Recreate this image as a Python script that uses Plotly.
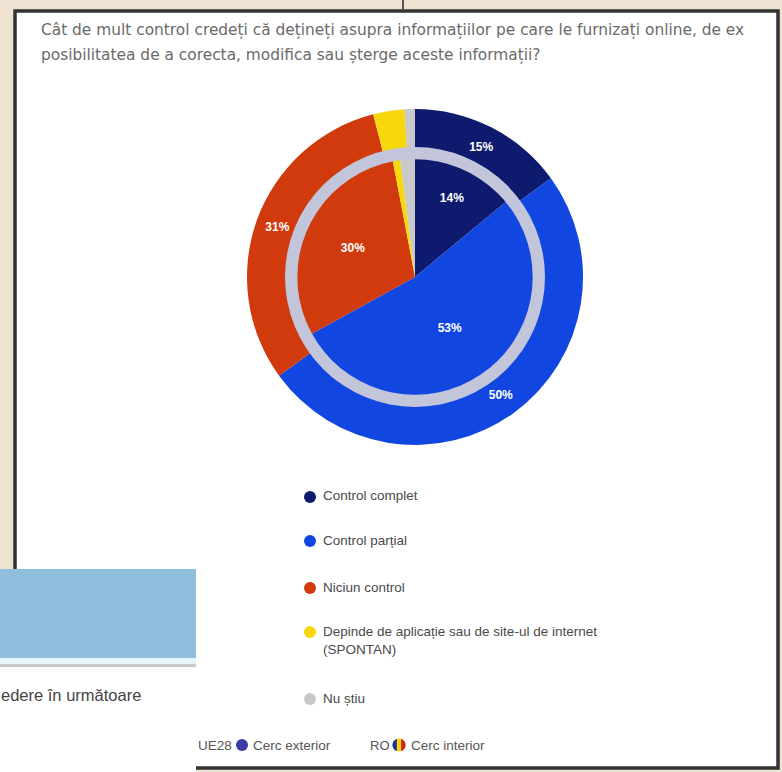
import math
import plotly.graph_objects as go

W, H = 782, 772

# ---------------- data ----------------
categories = [
    "Control complet",
    "Control parțial",
    "Niciun control",
    "Depinde de aplicație sau de site-ul de internet (SPONTAN)",
    "Nu știu",
]
legend_labels = [
    "Control complet",
    "Control parțial",
    "Niciun control",
    "Depinde de aplicație sau de site-ul de internet<br>(SPONTAN)",
    "Nu știu",
]
ue28_values = [15, 50, 31, 3, 1]   # outer ring (UE28)
ro_values = [14, 53, 30, 1, 2]     # inner circle (RO)
colors = ["#0e1a6e", "#1146e0", "#d03a0c", "#f6d80c", "#c9c9c9"]

title_lines = [
    "Cât de mult control credeți că dețineți asupra informațiilor pe care le furnizați online, de ex",
    "posibilitatea de a corecta, modifica sau șterge aceste informații?",
]


def px(x):
    return x / W


def py(y):
    return 1 - y / H


def dom(cx, cy, r):
    return dict(x=[px(cx - r), px(cx + r)], y=[py(cy + r), py(cy - r)])


def pct_text(vals):
    return [f"{v}%" if v >= 5 else "" for v in vals]


CX, CY, R = 415, 277, 168
R_IN = 124
R_RING = 130

fig = go.Figure()

# outer ring: UE28
fig.add_trace(go.Pie(
    labels=categories, values=ue28_values, text=pct_text(ue28_values),
    texttemplate="<b>%{text}</b>", textposition="inside",
    insidetextorientation="horizontal",
    textfont=dict(color="white", size=12, family="Liberation Sans"),
    marker=dict(colors=colors, line=dict(width=0)),
    sort=False, direction="clockwise", rotation=0, hole=0.74,
    domain=dom(CX, CY, R), showlegend=False, hoverinfo="label+percent",
    name="UE28",
))

# inner pie: RO
fig.add_trace(go.Pie(
    labels=categories, values=ro_values, text=pct_text(ro_values),
    texttemplate="<b>%{text}</b>", textposition="inside",
    insidetextorientation="horizontal",
    textfont=dict(color="white", size=12, family="Liberation Sans"),
    marker=dict(colors=colors, line=dict(width=0)),
    sort=False, direction="clockwise", rotation=0,
    domain=dom(CX, CY, R_IN), showlegend=False, hoverinfo="label+percent",
    name="RO",
))

# separating light ring
fig.add_trace(go.Pie(
    labels=["ring"], values=[1], textinfo="none",
    marker=dict(colors=["#c3c6da"], line=dict(width=0)),
    hole=0.905, sort=False, domain=dom(CX, CY, R_RING),
    showlegend=False, hoverinfo="skip",
))

shapes = []
# white chart box with dark frame
shapes.append(dict(type="rect", xref="paper", yref="paper", layer="below",
                   x0=px(15), x1=px(778), y0=py(768), y1=py(11),
                   fillcolor="white", line=dict(color="#333333", width=3.5)))
# page area bottom-left (white), blue band, separator
shapes.append(dict(type="rect", xref="paper", yref="paper", layer="below",
                   x0=0, x1=px(196), y0=0, y1=py(569),
                   fillcolor="white", line=dict(width=0)))
shapes.append(dict(type="rect", xref="paper", yref="paper", layer="below",
                   x0=0, x1=px(196), y0=py(658), y1=py(569),
                   fillcolor="#90bfde", line=dict(width=0)))
shapes.append(dict(type="rect", xref="paper", yref="paper", layer="below",
                   x0=0, x1=px(196), y0=py(664), y1=py(658),
                   fillcolor="#e6f5fc", line=dict(width=0)))
shapes.append(dict(type="rect", xref="paper", yref="paper", layer="below",
                   x0=0, x1=px(196), y0=py(667), y1=py(664),
                   fillcolor="#c8c8c8", line=dict(width=0)))
# small scan mark at top
shapes.append(dict(type="line", xref="paper", yref="paper", layer="below",
                   x0=px(403), x1=px(403), y0=py(0), y1=py(10),
                   line=dict(color="#555555", width=2)))

annotations = []
# title
for i, line in enumerate(title_lines):
    annotations.append(dict(text=line, x=px(39), y=py(30 + 25 * i),
                            xref="paper", yref="paper", xanchor="left",
                            yanchor="middle", showarrow=False,
                            font=dict(family="DejaVu Sans", size=15.4,
                                      color="#6a6a6a")))

# legend
leg_y = [497, 541, 588, 632, 699]
for lab, col, y in zip(legend_labels, colors, leg_y):
    r = 6
    shapes.append(dict(type="circle", xref="paper", yref="paper",
                       x0=px(310 - r), x1=px(310 + r), y0=py(y + r), y1=py(y - r),
                       fillcolor=col, line=dict(width=0)))
    two = "<br>" in lab
    annotations.append(dict(text=lab, x=px(321), y=py(y - 10) if two else py(y - 1),
                            xref="paper", yref="paper", xanchor="left",
                            yanchor="top" if two else "middle",
                            showarrow=False, align="left",
                            font=dict(family="Liberation Sans", size=13.5,
                                      color="#4a4a4a")))

# bottom key row
annotations.append(dict(text="UE28", x=px(196), y=py(745), xref="paper", yref="paper",
                        xanchor="left", yanchor="middle", showarrow=False,
                        font=dict(family="Liberation Sans", size=13.5, color="#555555")))
shapes.append(dict(type="circle", xref="paper", yref="paper",
                   x0=px(236), x1=px(248), y0=py(751), y1=py(739),
                   fillcolor="#3b3ba6", line=dict(width=0)))
annotations.append(dict(text="Cerc exterior", x=px(251), y=py(745), xref="paper", yref="paper",
                        xanchor="left", yanchor="middle", showarrow=False,
                        font=dict(family="Liberation Sans", size=13.5, color="#555555")))
annotations.append(dict(text="RO", x=px(368), y=py(745), xref="paper", yref="paper",
                        xanchor="left", yanchor="middle", showarrow=False,
                        font=dict(family="Liberation Sans", size=13, color="#555555")))

# Romanian-flag dot
fcx, fcy, fr = 399, 745, 6.5
shapes.append(dict(type="circle", xref="paper", yref="paper",
                   x0=px(fcx - fr), x1=px(fcx + fr), y0=py(fcy + fr), y1=py(fcy - fr),
                   fillcolor="#f6d40c", line=dict(width=0)))


def seg_path(side):
    xs = fr / 3.0
    n = 24
    if side < 0:
        a0 = math.acos(-xs / fr)
        angs = [a0 + (2 * math.pi - 2 * a0) * k / n for k in range(n + 1)]
    else:
        a0 = math.acos(xs / fr)
        angs = [-a0 + (2 * a0) * k / n for k in range(n + 1)]
    pts = [(fcx + fr * math.cos(a), fcy + fr * math.sin(a)) for a in angs]
    return "M " + " L ".join(f"{px(x):.5f},{py(y):.5f}" for x, y in pts) + " Z"


shapes.append(dict(type="path", xref="paper", yref="paper", path=seg_path(-1),
                   fillcolor="#1b2f9a", line=dict(width=0)))
shapes.append(dict(type="path", xref="paper", yref="paper", path=seg_path(1),
                   fillcolor="#d0201a", line=dict(width=0)))
annotations.append(dict(text="Cerc interior", x=px(409), y=py(745), xref="paper", yref="paper",
                        xanchor="left", yanchor="middle", showarrow=False,
                        font=dict(family="Liberation Sans", size=13.5, color="#555555")))

# page text under blue band
annotations.append(dict(text="edere în următoare", x=px(-1), y=py(695), xref="paper", yref="paper",
                        xanchor="left", yanchor="middle", showarrow=False,
                        font=dict(family="Liberation Sans", size=16.5, color="#444444")))

fig.update_layout(
    width=W, height=H, autosize=False,
    margin=dict(l=0, r=0, t=0, b=0),
    paper_bgcolor="#eee3d2", plot_bgcolor="white",
    shapes=shapes, annotations=annotations,
    showlegend=False,
)

fig.write_html(
    "out.html",
    config={"displayModeBar": False},
    post_script="document.body.style.margin='0px';document.body.style.overflow='hidden';",
)
